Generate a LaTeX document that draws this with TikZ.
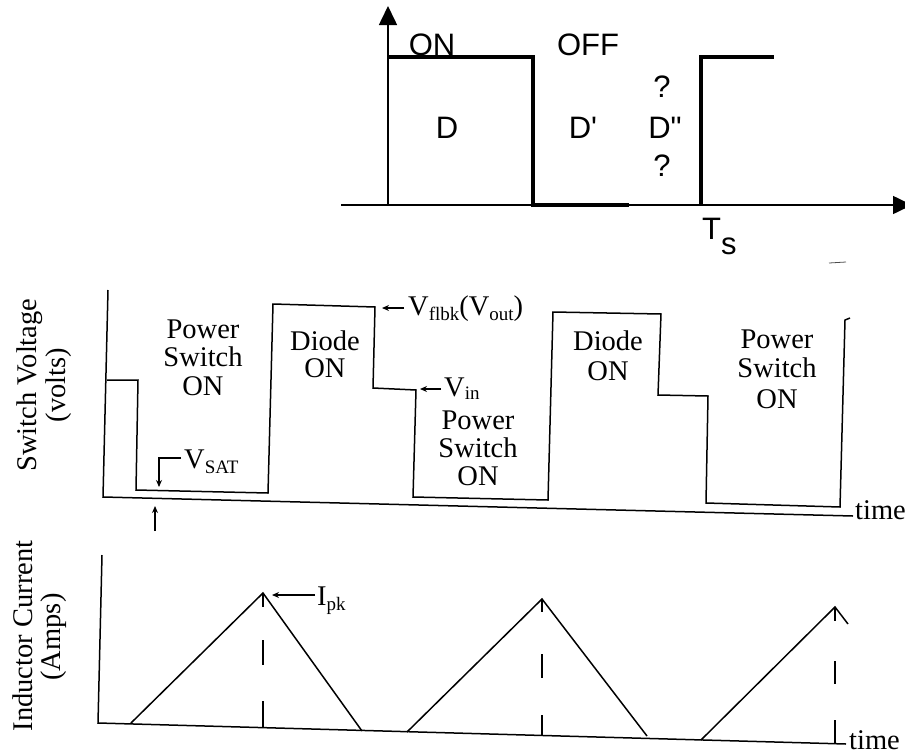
\documentclass[tikz,border=0pt]{standalone}
\usepackage{fontspec}
\setmainfont{Liberation Serif}
\newfontfamily\arialf{Liberation Sans}
\usetikzlibrary{arrows.meta}
\newcommand{\lsub}[1]{\raisebox{-0.45ex}{\fontsize{19}{19}\selectfont #1}}
\begin{document}
\begin{tikzpicture}[x=1pt,y=-1pt,
  thinax/.style={line width=1.6pt},
  thickwave/.style={line width=4.5pt},
  plotline/.style={line width=1.5pt, line join=miter},
  toplbl/.style={font=\arialf\fontsize{31}{31}\selectfont, anchor=base, inner sep=0pt},
  lbl/.style={font=\fontsize{28.5}{28.5}\selectfont, anchor=base, inner sep=0pt},
  ylbl/.style={font=\fontsize{28.5}{28.5}\selectfont, anchor=base, rotate=90, inner sep=0pt},
  smallarrow/.style={line width=1.3pt, -{Stealth[length=7pt,width=6pt]}},
  dashseg/.style={line width=1.5pt}]
\useasboundingbox (0,0) rectangle (905,755);

% ---------- top diagram ----------
\coordinate (ha0) at (341,205);
\coordinate (ha1) at (912,205);
\coordinate (va0) at (388,205);
\coordinate (va1) at (388,6);
\draw[thinax, -{Triangle[width=18pt,length=19pt]}] (ha0) -- (ha1);
\draw[thinax, -{Triangle[width=18pt,length=19pt]}] (va0) -- (va1);
\draw[thickwave] (388,57) -- (533,57) -- (533,205) -- (629,205);
\draw[thickwave] (701,205) -- (701,57) -- (774,57);
\node[toplbl] (on) at (432,55) {ON};
\node[toplbl] (off) at (588,55) {OFF};
\node[toplbl] (d) at (447,138) {D};
\node[toplbl] (dp) at (583,138) {D'};
\node[toplbl] (q1) at (662,97) {?};
\node[toplbl] (dpp) at (665,138) {D"};
\node[toplbl] (q2) at (662,176) {?};
\node[toplbl, anchor=base west] (ts) at (702,239) {T\raisebox{-0.5em}{s}};
\draw[line width=0.8pt, black!70] (829,263) -- (846,262);

% ---------- middle diagram ----------
\coordinate (m0) at (108,290);
\coordinate (m1) at (103,497);
\coordinate (m2) at (853,516);
\draw[plotline] (m0) -- (m1) -- (m2);
\draw[plotline] (107,380) -- (138,380) -- (136,490) -- (268,493) -- (273,304)
  -- (375,307) -- (373,388) -- (416,390) -- (413,497) -- (548,500) -- (553,312)
  -- (661,314) -- (658,395) -- (708,396) -- (706,503) -- (840,507) -- (845,320) -- (850,318);
\node[lbl, anchor=base west] (tm1) at (855,519) {time};

\node[ylbl] (sv) at (36,385) {Switch Voltage};
\node[ylbl] (vo) at (65,385) {(volts)};

\node[lbl] (p1a) at (203,338) {Power};
\node[lbl] (p1b) at (203,366) {Switch};
\node[lbl] (p1c) at (203,395) {ON};
\node[lbl] (d1a) at (325,350) {Diode};
\node[lbl] (d1b) at (325,377) {ON};
\node[lbl] (p2a) at (478,429) {Power};
\node[lbl] (p2b) at (478,457) {Switch};
\node[lbl] (p2c) at (478,485) {ON};
\node[lbl] (d2a) at (608,350) {Diode};
\node[lbl] (d2b) at (608,380) {ON};
\node[lbl] (p3a) at (777,348) {Power};
\node[lbl] (p3b) at (777,377) {Switch};
\node[lbl] (p3c) at (777,408) {ON};

\coordinate (vf0) at (404,308);
\coordinate (vf1) at (382,308);
\draw[smallarrow] (vf0) -- (vf1);
\node[lbl, anchor=base west] (vflbk) at (408,315) {V\lsub{flbk}(V\lsub{out})};
\coordinate (vi0) at (441,389);
\coordinate (vi1) at (420,389);
\draw[smallarrow] (vi0) -- (vi1);
\node[lbl, anchor=base west] (vin) at (444,396) {V\raisebox{-0.3ex}{\fontsize{19}{19}\selectfont in}};
\coordinate (vs0) at (181,458);
\coordinate (vs1) at (159,487);
\draw[smallarrow] (vs0) -- (159,458) -- (vs1);
\node[lbl, anchor=base west] (vsat) at (184,468) {V\lsub{SAT}};
\coordinate (ua0) at (155,531);
\coordinate (ua1) at (155,506);
\draw[smallarrow] (ua0) -- (ua1);

% ---------- bottom diagram ----------
\coordinate (b0) at (102,555);
\coordinate (b1) at (98,723);
\coordinate (b2) at (846,744);
\draw[plotline] (b0) -- (b1) -- (b2);
\node[lbl, anchor=base west] (tm2) at (849,749) {time};
\node[ylbl] (ic) at (32,636) {Inductor Current};
\node[ylbl] (am) at (60,637) {(Amps)};

\coordinate (pk1) at (263,593);
\coordinate (pk2) at (542,599);
\coordinate (pk3) at (835,607);
\draw[plotline] (131,723) -- (pk1) -- (362,731);
\draw[plotline] (407,732) -- (pk2) -- (647,736);
\draw[plotline] (701,740) -- (pk3) -- (848,624);

\draw[dashseg] (pk1) -- (263,607) (263,640) -- (263,665) (263,701) -- (263,728);
\draw[dashseg] (pk2) -- (542,612) (542,654) -- (542,678) (542,715) -- (542,736);
\draw[dashseg] (pk3) -- (835,621) (835,661) -- (835,684) (835,720) -- (835,743);

\coordinate (ip0) at (315,595);
\coordinate (ip1) at (272,595);
\draw[smallarrow] (ip0) -- (ip1);
\node[lbl, anchor=base west] (ipk) at (317,605) {I\lsub{pk}};
\end{tikzpicture}
\end{document}
